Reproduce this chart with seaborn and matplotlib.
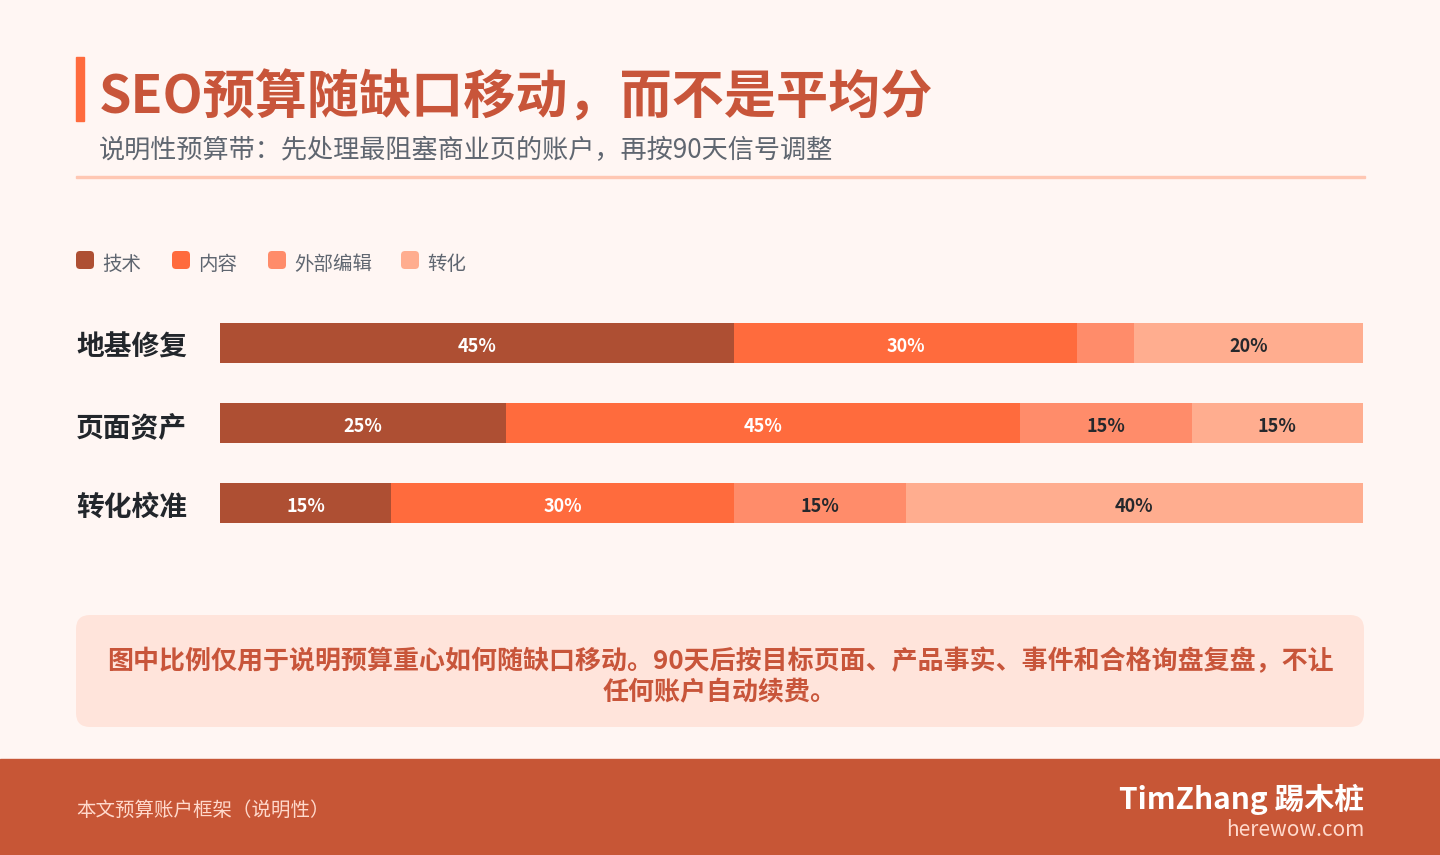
import numpy as np
import pandas as pd
import seaborn as sns
import matplotlib.pyplot as plt
from matplotlib.patches import FancyBboxPatch, Rectangle

# data
rows = ["地基修复", "页面资产", "转化校准"]
segments = ["技术", "内容", "外部编辑", "转化"]
tech = [45, 25, 15]
content = [30, 45, 30]
external = [5, 15, 15]
convert = [20, 15, 40]
colors = ["#AE4F33", "#FF6B3D", "#FF8C6A", "#FFAD8F"]
label_colors = ["white", "white", "#25282C", "#25282C"]

title = "SEO预算随缺口移动，而不是平均分"
subtitle = "说明性预算带：先处理最阻塞商业页的账户，再按90天信号调整"
note = "图中比例仅用于说明预算重心如何随缺口移动。90天后按目标页面、产品事实、事件和合格询盘复盘，不让\n任何账户自动续费。"
footer_left = "本文预算账户框架（说明性）"
brand = "TimZhang 踢木桩"
site = "herewow.com"

sns.set_theme(style="white")
FONT = ["Noto Sans CJK SC", "DejaVu Sans"]
plt.rcParams["font.family"] = FONT

BG = "#FFF6F3"
RUST = "#C8553A"
W, H = 1440, 855

fig = plt.figure(figsize=(14.4, 8.55), dpi=100, facecolor=BG)

def fx(px):
    return px / W

def fy(py):
    return 1 - py / H

# header
fig.patches.append(Rectangle((fx(76), fy(121)), fx(8), 64 / H, transform=fig.transFigure,
                             color="#FF6B3D", zorder=1))
fig.text(fx(99), fy(98), title, fontsize=37.5, fontweight="bold", color=RUST, va="center", ha="left")
fig.text(fx(99), fy(151), subtitle, fontsize=18.8, color="#5F6670", va="center", ha="left")
fig.patches.append(Rectangle((fx(76), fy(178)), fx(1289), 2 / H, transform=fig.transFigure,
                             color="#FFC7B3", zorder=1))

# legend
leg_x = [76, 172, 268, 401]
for x0, name, c in zip(leg_x, segments, colors):
    fig.patches.append(FancyBboxPatch((x0, H - 269), 18, 18, boxstyle="round,pad=0,rounding_size=4",
                                      transform=None, facecolor=c, edgecolor="none"))
    fig.text(fx(x0 + 26), fy(264), name, fontsize=14, color="#5F6670", va="center", ha="left")

# stacked bars
ax = fig.add_axes([fx(220), fy(543), fx(1363 - 220), 240 / H])
ax.set_facecolor(BG)
df = pd.DataFrame({"row": rows, "技术": tech, "内容": content, "外部编辑": external, "转化": convert})
cum = df[segments].cumsum(axis=1)
for seg, c in reversed(list(zip(segments, colors))):
    sns.barplot(data=cum.assign(row=rows), x=seg, y="row", color=c, orient="h",
                width=0.51, saturation=1, linewidth=0, ax=ax)

for i in range(len(rows)):
    start = 0
    for j, seg in enumerate(segments):
        v = df.loc[i, seg]
        if v >= 10:
            ax.text(start + v / 2, i + 0.04, f"{v}%", ha="center", va="center", fontsize=13,
                    fontweight="bold", color=label_colors[j])
        start += v

ax.set_xlim(0, 100)
ax.set_ylim(2.5, -0.5)
ax.set_xlabel("")
ax.set_ylabel("")
ax.set_xticks([])
ax.set_yticks([])
sns.despine(ax=ax, left=True, bottom=True)
for i, r in enumerate(rows):
    fig.text(fx(76), fy(348 + 80 * i), r, fontsize=20, fontweight="bold", color="#22262B",
             va="center", ha="left")

# note box
fig.patches.append(FancyBboxPatch((76, H - 727), 1288, 112, boxstyle="round,pad=0,rounding_size=14",
                                  transform=None, facecolor="#FFE4DB", edgecolor="none"))
fig.text(fx(720), fy(677), note, fontsize=18.7, fontweight="bold", color=RUST,
         ha="center", va="center", linespacing=1.22)

# footer
fig.patches.append(Rectangle((0, 0), 1, 96 / H, transform=fig.transFigure, color="#C75636"))
fig.text(fx(76), fy(810), footer_left, fontsize=14, color="#FFD9CC", va="center", ha="left")
fig.text(fx(1364), fy(799), brand, fontsize=21.5, fontweight="bold", color="white", va="center", ha="right")
fig.text(fx(1364), fy(830), site, fontsize=15, color="#FFD9CC", va="center", ha="right")

fig.savefig("out.png", dpi=100, facecolor=BG)
